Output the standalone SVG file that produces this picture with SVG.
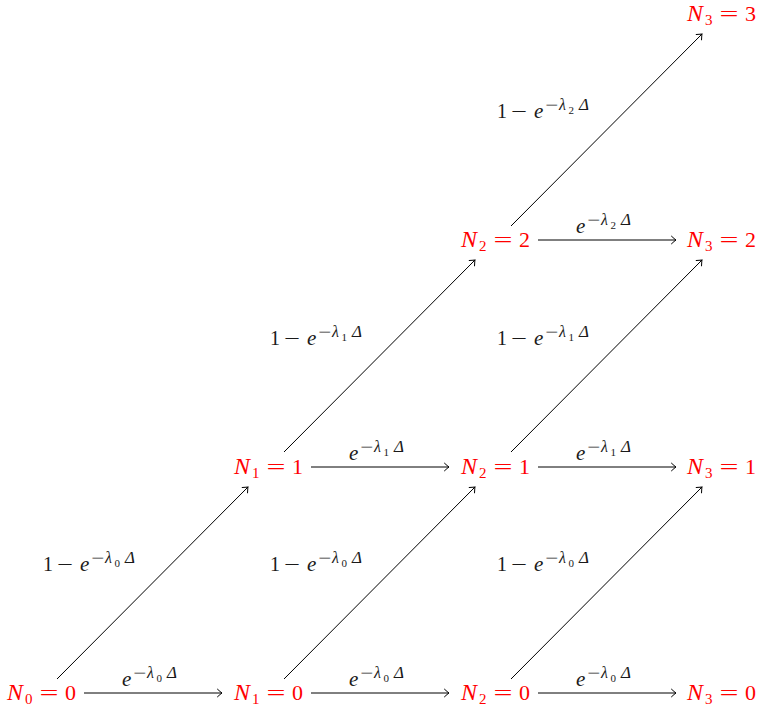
<svg xmlns="http://www.w3.org/2000/svg" width="759" height="711" viewBox="0 0 759 711">
<defs>
<style>
.node{font-family:"Liberation Serif","DejaVu Serif",serif;font-size:22px;fill:#ff0000}
.lbl{font-family:"Liberation Serif","DejaVu Serif",serif;font-size:20px;fill:#1a1a1a}
.it{font-style:italic}
.op{font-family:"Liberation Serif","DejaVu Serif",serif;font-style:normal}
.edge{stroke:#000;stroke-width:1;fill:none;marker-end:url(#tip)}
</style>
<marker id="tip" viewBox="-6 -5 8 10" markerWidth="8" markerHeight="10" refX="0" refY="0" orient="auto" markerUnits="userSpaceOnUse">
<path d="M-4.5,-3.8 Q-1.5,-1 0,0 Q-1.5,1 -4.5,3.8" fill="none" stroke="#000" stroke-width="1" stroke-linecap="round"/>
</marker>
</defs>
<rect width="759" height="711" fill="#fff"/>
<g id="connectors">
<line class="edge" x1="84" y1="693" x2="222" y2="693"/>
<line class="edge" x1="311" y1="693" x2="449" y2="693"/>
<line class="edge" x1="538" y1="693" x2="676" y2="693"/>
<line class="edge" x1="311" y1="467" x2="449" y2="467"/>
<line class="edge" x1="538" y1="467" x2="676" y2="467"/>
<line class="edge" x1="538" y1="240" x2="676" y2="240"/>
<line class="edge" x1="57" y1="679" x2="248" y2="487"/>
<line class="edge" x1="284" y1="679" x2="475" y2="487"/>
<line class="edge" x1="511" y1="679" x2="702" y2="487"/>
<line class="edge" x1="284" y1="452" x2="475" y2="260"/>
<line class="edge" x1="511" y1="452" x2="702" y2="260"/>
<line class="edge" x1="511" y1="226" x2="702" y2="34"/>
<g class="lbl">
<g transform="translate(122,686)"><text><tspan x="0" y="0" class="it" font-size="21">e</tspan><tspan x="11" y="-8" font-size="15" class="op" textLength="13" lengthAdjust="spacingAndGlyphs">−</tspan><tspan x="25" y="-8" font-size="16" class="it">λ</tspan><tspan x="34.5" y="-4" font-size="11">0</tspan><tspan x="45" y="-8" font-size="17" class="it">Δ</tspan></text></g>
<g transform="translate(349,686)"><text><tspan x="0" y="0" class="it" font-size="21">e</tspan><tspan x="11" y="-8" font-size="15" class="op" textLength="13" lengthAdjust="spacingAndGlyphs">−</tspan><tspan x="25" y="-8" font-size="16" class="it">λ</tspan><tspan x="34.5" y="-4" font-size="11">0</tspan><tspan x="45" y="-8" font-size="17" class="it">Δ</tspan></text></g>
<g transform="translate(576,686)"><text><tspan x="0" y="0" class="it" font-size="21">e</tspan><tspan x="11" y="-8" font-size="15" class="op" textLength="13" lengthAdjust="spacingAndGlyphs">−</tspan><tspan x="25" y="-8" font-size="16" class="it">λ</tspan><tspan x="34.5" y="-4" font-size="11">0</tspan><tspan x="45" y="-8" font-size="17" class="it">Δ</tspan></text></g>
<g transform="translate(349,459.5)"><text><tspan x="0" y="0" class="it" font-size="21">e</tspan><tspan x="11" y="-8" font-size="15" class="op" textLength="13" lengthAdjust="spacingAndGlyphs">−</tspan><tspan x="25" y="-8" font-size="16" class="it">λ</tspan><tspan x="34.5" y="-4" font-size="11">1</tspan><tspan x="45" y="-8" font-size="17" class="it">Δ</tspan></text></g>
<g transform="translate(576,459.5)"><text><tspan x="0" y="0" class="it" font-size="21">e</tspan><tspan x="11" y="-8" font-size="15" class="op" textLength="13" lengthAdjust="spacingAndGlyphs">−</tspan><tspan x="25" y="-8" font-size="16" class="it">λ</tspan><tspan x="34.5" y="-4" font-size="11">1</tspan><tspan x="45" y="-8" font-size="17" class="it">Δ</tspan></text></g>
<g transform="translate(576,233)"><text><tspan x="0" y="0" class="it" font-size="21">e</tspan><tspan x="11" y="-8" font-size="15" class="op" textLength="13" lengthAdjust="spacingAndGlyphs">−</tspan><tspan x="25" y="-8" font-size="16" class="it">λ</tspan><tspan x="34.5" y="-4" font-size="11">2</tspan><tspan x="45" y="-8" font-size="17" class="it">Δ</tspan></text></g>
<g transform="translate(45,571)"><text><tspan x="-2" y="0">1</tspan><tspan x="12" y="0" class="op" textLength="16" lengthAdjust="spacingAndGlyphs">−</tspan><tspan x="35" y="0" class="it" font-size="21">e</tspan><tspan x="46" y="-8" font-size="15" class="op" textLength="13" lengthAdjust="spacingAndGlyphs">−</tspan><tspan x="60" y="-8" font-size="16" class="it">λ</tspan><tspan x="69.5" y="-4" font-size="11">0</tspan><tspan x="80" y="-8" font-size="17" class="it">Δ</tspan></text></g>
<g transform="translate(272,571)"><text><tspan x="-2" y="0">1</tspan><tspan x="12" y="0" class="op" textLength="16" lengthAdjust="spacingAndGlyphs">−</tspan><tspan x="35" y="0" class="it" font-size="21">e</tspan><tspan x="46" y="-8" font-size="15" class="op" textLength="13" lengthAdjust="spacingAndGlyphs">−</tspan><tspan x="60" y="-8" font-size="16" class="it">λ</tspan><tspan x="69.5" y="-4" font-size="11">0</tspan><tspan x="80" y="-8" font-size="17" class="it">Δ</tspan></text></g>
<g transform="translate(499,571)"><text><tspan x="-2" y="0">1</tspan><tspan x="12" y="0" class="op" textLength="16" lengthAdjust="spacingAndGlyphs">−</tspan><tspan x="35" y="0" class="it" font-size="21">e</tspan><tspan x="46" y="-8" font-size="15" class="op" textLength="13" lengthAdjust="spacingAndGlyphs">−</tspan><tspan x="60" y="-8" font-size="16" class="it">λ</tspan><tspan x="69.5" y="-4" font-size="11">0</tspan><tspan x="80" y="-8" font-size="17" class="it">Δ</tspan></text></g>
<g transform="translate(272,344.5)"><text><tspan x="-2" y="0">1</tspan><tspan x="12" y="0" class="op" textLength="16" lengthAdjust="spacingAndGlyphs">−</tspan><tspan x="35" y="0" class="it" font-size="21">e</tspan><tspan x="46" y="-8" font-size="15" class="op" textLength="13" lengthAdjust="spacingAndGlyphs">−</tspan><tspan x="60" y="-8" font-size="16" class="it">λ</tspan><tspan x="69.5" y="-4" font-size="11">1</tspan><tspan x="80" y="-8" font-size="17" class="it">Δ</tspan></text></g>
<g transform="translate(499,344.5)"><text><tspan x="-2" y="0">1</tspan><tspan x="12" y="0" class="op" textLength="16" lengthAdjust="spacingAndGlyphs">−</tspan><tspan x="35" y="0" class="it" font-size="21">e</tspan><tspan x="46" y="-8" font-size="15" class="op" textLength="13" lengthAdjust="spacingAndGlyphs">−</tspan><tspan x="60" y="-8" font-size="16" class="it">λ</tspan><tspan x="69.5" y="-4" font-size="11">1</tspan><tspan x="80" y="-8" font-size="17" class="it">Δ</tspan></text></g>
<g transform="translate(499,118)"><text><tspan x="-2" y="0">1</tspan><tspan x="12" y="0" class="op" textLength="16" lengthAdjust="spacingAndGlyphs">−</tspan><tspan x="35" y="0" class="it" font-size="21">e</tspan><tspan x="46" y="-8" font-size="15" class="op" textLength="13" lengthAdjust="spacingAndGlyphs">−</tspan><tspan x="60" y="-8" font-size="16" class="it">λ</tspan><tspan x="69.5" y="-4" font-size="11">2</tspan><tspan x="80" y="-8" font-size="17" class="it">Δ</tspan></text></g>
</g>
</g>
<g id="n00" class="node" transform="translate(7,700)"><text><tspan x="0" y="0" class="it" font-size="24">N</tspan><tspan x="18" y="4" font-size="15">0</tspan><tspan x="32.5" y="0" class="op" textLength="19" lengthAdjust="spacingAndGlyphs">=</tspan><tspan x="58" y="0">0</tspan></text></g>
<g id="n10" class="node" transform="translate(234,700)"><text><tspan x="0" y="0" class="it" font-size="24">N</tspan><tspan x="18" y="4" font-size="15">1</tspan><tspan x="32.5" y="0" class="op" textLength="19" lengthAdjust="spacingAndGlyphs">=</tspan><tspan x="58" y="0">0</tspan></text></g>
<g id="n20" class="node" transform="translate(461,700)"><text><tspan x="0" y="0" class="it" font-size="24">N</tspan><tspan x="18" y="4" font-size="15">2</tspan><tspan x="32.5" y="0" class="op" textLength="19" lengthAdjust="spacingAndGlyphs">=</tspan><tspan x="58" y="0">0</tspan></text></g>
<g id="n30" class="node" transform="translate(687,700)"><text><tspan x="0" y="0" class="it" font-size="24">N</tspan><tspan x="18" y="4" font-size="15">3</tspan><tspan x="32.5" y="0" class="op" textLength="19" lengthAdjust="spacingAndGlyphs">=</tspan><tspan x="58" y="0">0</tspan></text></g>
<g id="n11" class="node" transform="translate(234,473.5)"><text><tspan x="0" y="0" class="it" font-size="24">N</tspan><tspan x="18" y="4" font-size="15">1</tspan><tspan x="32.5" y="0" class="op" textLength="19" lengthAdjust="spacingAndGlyphs">=</tspan><tspan x="58" y="0">1</tspan></text></g>
<g id="n21" class="node" transform="translate(461,473.5)"><text><tspan x="0" y="0" class="it" font-size="24">N</tspan><tspan x="18" y="4" font-size="15">2</tspan><tspan x="32.5" y="0" class="op" textLength="19" lengthAdjust="spacingAndGlyphs">=</tspan><tspan x="58" y="0">1</tspan></text></g>
<g id="n31" class="node" transform="translate(687,473.5)"><text><tspan x="0" y="0" class="it" font-size="24">N</tspan><tspan x="18" y="4" font-size="15">3</tspan><tspan x="32.5" y="0" class="op" textLength="19" lengthAdjust="spacingAndGlyphs">=</tspan><tspan x="58" y="0">1</tspan></text></g>
<g id="n22" class="node" transform="translate(461,247)"><text><tspan x="0" y="0" class="it" font-size="24">N</tspan><tspan x="18" y="4" font-size="15">2</tspan><tspan x="32.5" y="0" class="op" textLength="19" lengthAdjust="spacingAndGlyphs">=</tspan><tspan x="58" y="0">2</tspan></text></g>
<g id="n32" class="node" transform="translate(687,247)"><text><tspan x="0" y="0" class="it" font-size="24">N</tspan><tspan x="18" y="4" font-size="15">3</tspan><tspan x="32.5" y="0" class="op" textLength="19" lengthAdjust="spacingAndGlyphs">=</tspan><tspan x="58" y="0">2</tspan></text></g>
<g id="n33" class="node" transform="translate(687,20.5)"><text><tspan x="0" y="0" class="it" font-size="24">N</tspan><tspan x="18" y="4" font-size="15">3</tspan><tspan x="32.5" y="0" class="op" textLength="19" lengthAdjust="spacingAndGlyphs">=</tspan><tspan x="58" y="0">3</tspan></text></g>
</svg>
